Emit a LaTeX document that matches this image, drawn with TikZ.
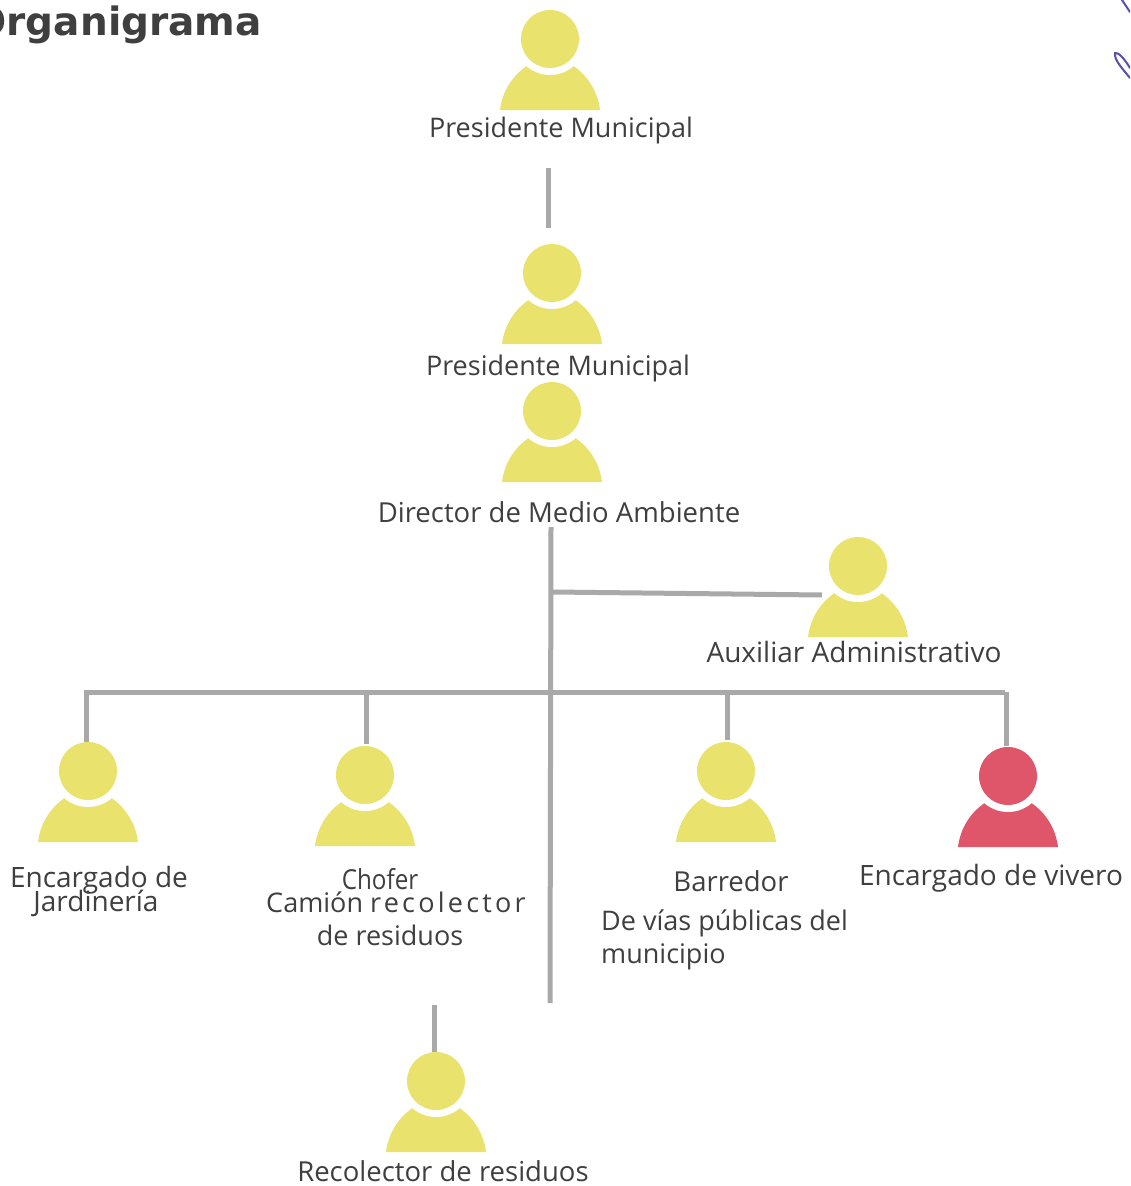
\documentclass[tikz,border=0pt]{standalone}
\usepackage{fontspec}
\setmainfont{Open Sans}
\newfontfamily\titlefont{DejaVu Sans}
\definecolor{ypers}{HTML}{E9E26C}
\definecolor{rpers}{HTML}{DF5569}
\definecolor{conn}{HTML}{A9A9A9}
\definecolor{txt}{HTML}{3F3F3F}
\definecolor{ink}{HTML}{5A50A8}
\newcommand{\fs}[1]{\fontsize{#1}{#1}\selectfont}
\tikzset{
  conline/.style={draw=conn,line width=5pt},
  lbl/.style={text=txt,font=\fs{27.5},inner sep=0pt,anchor=center},
  titlelbl/.style={text=txt,font=\titlefont\fs{39}\bfseries,inner sep=0pt},
  inkline/.style={draw=ink,line width=2pt,line cap=round}
}
% #1 head x, #2 head y, #3 colour, #4 name
\newcommand{\persona}[4]{%
  \coordinate (#4) at (#1,#2);
  \fill[#3] (#1-50,#2+71) .. controls (#1-48,#2+55) and (#1-40,#2+38) .. (#1-22,#2+26)
     -- (#1+22,#2+26) .. controls (#1+40,#2+38) and (#1+48,#2+55) .. (#1+50,#2+71) -- cycle;
  \fill[white] (#1,#2) circle[radius=36];
  \fill[#3] (#1,#2) circle[radius=29];
}
\begin{document}
\begin{tikzpicture}[x=1pt,y=-1pt]
\useasboundingbox (0,0) rectangle (1130,1186);
\fill[white] (0,0) rectangle (1130,1186);
\clip (0,0) rectangle (1130,1186);

\node[titlelbl,anchor=east] (title) at (262,25) {Organigrama};

\persona{550}{39}{ypers}{p1}
\persona{552}{273}{ypers}{p2}
\persona{552}{411}{ypers}{p3}
\persona{858}{566}{ypers}{p4}
\persona{88}{771}{ypers}{p5}
\persona{365}{775}{ypers}{p6}
\persona{726}{771}{ypers}{p7}
\persona{1008}{776}{rpers}{p8}
\persona{436}{1081}{ypers}{p9}

% connector end points
\coordinate (a1) at (548,168);
\coordinate (a2) at (548,228);
\coordinate (m1) at (551,527);
\coordinate (m2) at (550,1003);
\coordinate (b1) at (553,592);
\coordinate (b2) at (822,595);
\coordinate (h1) at (84,692);
\coordinate (h2) at (1005,692);
\coordinate (d1a) at (86,692);  \coordinate (d1b) at (86,742);
\coordinate (d2a) at (366,692); \coordinate (d2b) at (366,744);
\coordinate (d3a) at (727,692); \coordinate (d3b) at (727,740);
\coordinate (d4a) at (1006,692);\coordinate (d4b) at (1006,746);
\coordinate (r1) at (434,1005); \coordinate (r2) at (434,1052);

\draw[conline] (a1) -- (a2);
\draw[conline] (m1) -- (m2);
\draw[conline] (b1) -- (b2);
\draw[conline] (h1) -- (h2);
\draw[conline] (d1a) -- (d1b);
\draw[conline] (d2a) -- (d2b);
\draw[conline] (d3a) -- (d3b);
\draw[conline] (d4a) -- (d4b);
\draw[conline] (r1) -- (r2);

\node[lbl,font=\fs{27}] (t1) at (561,130) {Presidente Municipal};
\node[lbl,font=\fs{27}] (t2) at (558,368) {Presidente Municipal};
\node[lbl] (t3) at (559,512) {Director de Medio Ambiente};
\node[lbl,font=\fs{28}] (t4) at (854,652) {Auxiliar Administrativo};
\node[lbl,font=\fs{28}] (t5a) at (99,880) {Encargado de};
\node[lbl,font=\fs{28}] (t5b) at (96,903) {Jardinería};
\node[lbl,xscale=.88] (t6a) at (380,879) {Chofer};
\node[lbl,font=\fs{27}] (t6b) at (396,902) {Camión {\addfontfeature{LetterSpace=12}recolector}};
\node[lbl,font=\fs{27}] (t6c) at (390,935) {de residuos};
\node[lbl] (t7a) at (731,881) {Barredor};
\node[lbl,anchor=west,font=\fs{27}] (t7b) at (601,923) {De vías públicas del};
\node[lbl,anchor=west,font=\fs{27}] (t7c) at (601,957) {municipio};
\node[lbl,font=\fs{28}] (t8) at (991,878) {Encargado de vivero};
\node[lbl] (t9) at (443,1171) {Recolector de residuos};

% handwriting at the page edge
\coordinate (i1) at (1122,0);
\coordinate (i2) at (1130,12);
\coordinate (i3) at (1130,68);
\coordinate (i4) at (1115,53);
\coordinate (i5) at (1130,78);
\draw[inkline] (i1) -- (i2);
\draw[inkline] (i3) .. controls (1124,58) and (1118,52) .. (i4) .. controls (1114,60) and (1122,68) .. (i5);
\end{tikzpicture}
\end{document}
